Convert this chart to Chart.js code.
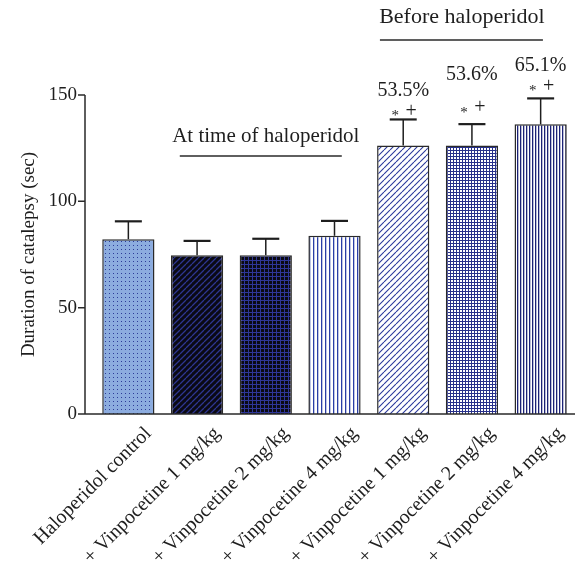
<!DOCTYPE html>
<html>
<head>
<meta charset="utf-8">
<script src="https://cdn.jsdelivr.net/npm/chart.js@4.4.0/dist/chart.umd.min.js"></script>
<style>
html,body{margin:0;padding:0;background:#fff;}
#c{display:block;}
</style>
</head>
<body>
<canvas id="c" width="583" height="579"></canvas>
<script>
// ---- data ----
const categories = [
  'Haloperidol control',
  '+ Vinpocetine 1 mg/kg',
  '+ Vinpocetine 2 mg/kg',
  '+ Vinpocetine 4 mg/kg',
  '+ Vinpocetine 1 mg/kg',
  '+ Vinpocetine 2 mg/kg',
  '+ Vinpocetine 4 mg/kg'
];
const meanValues = [82.2, 74.6, 74.6, 83.8, 126.3, 126.3, 136.2];
const errorValues = [8.4, 6.8, 7.8, 7.0, 12.2, 10.0, 12.2];
const percentLabels = ['', '', '', '', '53.5%', '53.6%', '65.1%'];
const yTicks = [0, 50, 100, 150];
const groupLabels = ['At time of haloperidol', 'Before haloperidol'];

const SERIF = '"Liberation Serif", "DejaVu Serif", serif';

// ---- patterns ----
const mainCtx = document.getElementById('c').getContext('2d');
function makePattern(w, h, bg, draw) {
  const c = document.createElement('canvas');
  c.width = w; c.height = h;
  const g = c.getContext('2d');
  if (bg) { g.fillStyle = bg; g.fillRect(0, 0, w, h); }
  draw(g, w, h);
  return mainCtx.createPattern(c, 'repeat');
}
function diag(color, lw) {
  return (g, w, h) => {
    g.strokeStyle = color; g.lineWidth = lw;
    g.beginPath();
    for (let k = -1; k <= 1; k++) { g.moveTo(k * w, h); g.lineTo(k * w + w, 0); }
    g.stroke();
  };
}
const pats = [
  makePattern(4, 4, '#8cacdf', (g) => { g.fillStyle = '#2c3c98'; g.fillRect(1, 1, 1, 1); }),
  makePattern(6, 6, '#0a0a14', diag('#2e3690', 1.3)),
  makePattern(4, 4, '#0a0a14', (g) => { g.fillStyle = '#2e3698'; g.fillRect(0, 0, 1, 4); g.fillRect(0, 0, 4, 1); }),
  makePattern(4, 4, '#ffffff', (g) => { g.fillStyle = '#2a3ea6'; g.fillRect(1, 0, 1.3, 4); }),
  makePattern(6, 6, '#ffffff', diag('#2c3a9c', 1.1)),
  makePattern(3, 3, '#ffffff', (g) => { g.fillStyle = '#27308a'; g.fillRect(0, 0, 1, 3); g.fillRect(0, 0, 3, 1); }),
  makePattern(3, 4, '#ffffff', (g) => { g.fillStyle = '#1c2276'; g.fillRect(1, 0, 1.3, 4); })
];

// ---- plugin: axes, error bars, annotations ----
const decor = {
  id: 'decor',
  afterDatasetsDraw(chart) {
    const ctx = chart.ctx;
    const ca = chart.chartArea;
    const y = chart.scales.y;
    const x = chart.scales.x;
    const meta = chart.getDatasetMeta(0);
    ctx.save();
    // error bars
    ctx.strokeStyle = '#1e1e1e';
    meta.data.forEach((bar, i) => {
      const top = y.getPixelForValue(meanValues[i] + errorValues[i]);
      ctx.lineWidth = 1.5;
      ctx.beginPath(); ctx.moveTo(bar.x, bar.y); ctx.lineTo(bar.x, top); ctx.stroke();
      ctx.lineWidth = 2.2;
      ctx.beginPath(); ctx.moveTo(bar.x - 13.5, top); ctx.lineTo(bar.x + 13.5, top); ctx.stroke();
    });
    // axes
    const axX = ca.left - 9;
    ctx.strokeStyle = '#2a2a2a';
    ctx.lineWidth = 1.5;
    ctx.beginPath();
    ctx.moveTo(axX, y.getPixelForValue(150)); ctx.lineTo(axX, ca.bottom);
    ctx.moveTo(axX - 7, ca.bottom); ctx.lineTo(ca.right, ca.bottom);
    yTicks.forEach(v => { const p = y.getPixelForValue(v); ctx.moveTo(axX - 7, p); ctx.lineTo(axX, p); });
    ctx.stroke();
    // annotations
    ctx.fillStyle = '#1e1e1e';
    ctx.textAlign = 'center';
    ctx.textBaseline = 'middle';
    const pctOff = [0, 0, 0, 0, 29, 49, 33];
    const mkOff = [0, 0, 0, 0, 6, 14, 10];
    meta.data.forEach((bar, i) => {
      if (!percentLabels[i]) return;
      const top = y.getPixelForValue(meanValues[i] + errorValues[i]);
      ctx.font = '20px ' + SERIF;
      ctx.fillText(percentLabels[i], bar.x, top - pctOff[i]);
      ctx.font = '15px ' + SERIF;
      ctx.fillText('*', bar.x - 8, top - mkOff[i] + 3);
      ctx.font = '20px ' + SERIF;
      ctx.fillText('+', bar.x + 8, top - mkOff[i] - 2);
    });
    // group headers
    ctx.font = '21px ' + SERIF;
    const c1 = x.getPixelForValue(2);
    ctx.fillText(groupLabels[0], c1, ca.top + 41);
    ctx.lineWidth = 1.6;
    ctx.beginPath(); ctx.moveTo(c1 - 86, ca.top + 61); ctx.lineTo(c1 + 76, ca.top + 61); ctx.stroke();
    ctx.font = '22px ' + SERIF;
    const c2 = x.getPixelForValue(5) - 10;
    ctx.fillText(groupLabels[1], c2, 17);
    ctx.beginPath(); ctx.moveTo(c2 - 82, 40); ctx.lineTo(c2 + 81, 40); ctx.stroke();
    ctx.restore();
  }
};

new Chart(document.getElementById('c'), {
  type: 'bar',
  data: {
    labels: categories,
    datasets: [{
      data: meanValues,
      backgroundColor: pats,
      borderColor: '#2a2a2a',
      borderWidth: 1.5,
      borderSkipped: 'bottom',
      barPercentage: 0.76,
      categoryPercentage: 1.0
    }]
  },
  options: {
    responsive: false,
    animation: false,
    devicePixelRatio: 1,
    layout: { padding: { top: 95, right: 8, left: 0, bottom: 0 } },
    plugins: { legend: { display: false }, tooltip: { enabled: false } },
    scales: {
      x: {
        grid: { display: false, drawTicks: false },
        border: { display: false },
        afterFit: (s) => { s.height = 165; },
        ticks: {
          color: '#1e1e1e',
          font: { family: SERIF, size: 20 },
          minRotation: 45, maxRotation: 45,
          padding: 8,
          labelOffset: 20,
          autoSkip: false
        }
      },
      y: {
        min: 0, max: 150,
        afterFit: (s) => { s.width = 94; },
        afterBuildTicks: (s) => { s.ticks = yTicks.map(v => ({ value: v })); },
        grid: { display: false, drawTicks: false },
        border: { display: false },
        ticks: {
          color: '#1e1e1e',
          font: { family: SERIF, size: 19 },
          padding: 17
        },
        title: {
          display: true,
          text: 'Duration of catalepsy (sec)',
          color: '#1e1e1e',
          font: { family: SERIF, size: 19 },
          padding: { top: 18, bottom: 0 }
        }
      }
    }
  },
  plugins: [decor]
});
</script>
</body>
</html>
